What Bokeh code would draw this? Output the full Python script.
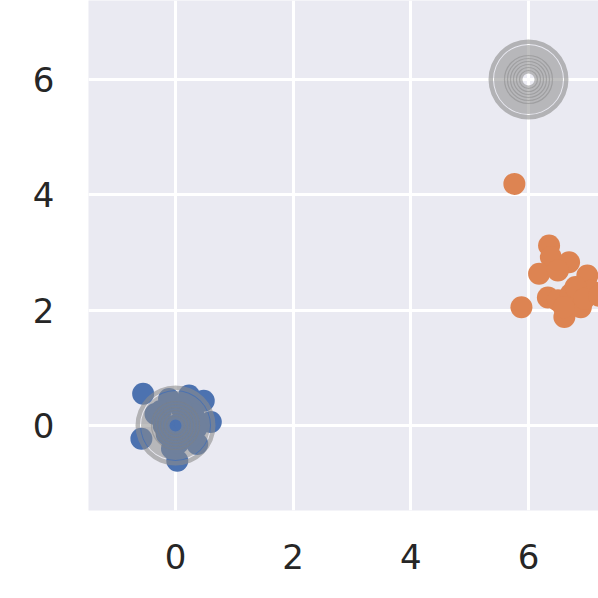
from bokeh.plotting import figure
from bokeh.models import Range1d, FixedTicker, ColumnDataSource
from bokeh.embed import file_html
from bokeh.resources import INLINE

# Data
blue_x = [-0.55, -0.58, 0.03, 0.60, 0.48, 0.23, -0.11, -0.34, 0.37, -0.06, 0.0, 0.15, -0.2, 0.3, 0.25, 0.1, -0.15, 0.05, 0.35, -0.25]
blue_y = [0.55, -0.23, -0.61, 0.06, 0.43, 0.52, 0.46, 0.20, -0.32, -0.40, 0.0, 0.05, 0.0, 0.2, -0.2, 0.3, -0.15, -0.3, -0.05, 0.25]
orange_x = [5.76, 5.88, 6.35, 6.38, 6.18, 6.69, 7.00, 6.33, 6.61, 6.89, 7.06, 6.50, 6.72, 6.50, 6.80, 6.95, 6.60, 7.20]
orange_y = [4.19, 2.05, 3.12, 2.92, 2.63, 2.83, 2.60, 2.22, 1.88, 2.05, 2.34, 2.17, 2.28, 2.69, 2.40, 2.20, 2.05, 2.25]
centroid_x = [0, 6]
centroid_y = [0, 6]
ticks = [0, 2, 4, 6]

p = figure(width=598, height=598, output_backend="svg", toolbar_location=None,
           x_range=Range1d(-1.479, 7.19), y_range=Range1d(-1.474, 7.37),
           min_border_left=88, min_border_right=0, min_border_top=0, min_border_bottom=88)
p.background_fill_color = "#EAEAF2"
p.border_fill_color = "white"
p.outline_line_color = None

for ax in (p.xaxis, p.yaxis):
    ax.ticker = FixedTicker(ticks=ticks)
    ax.axis_line_color = None
    ax.major_tick_line_color = None
    ax.minor_tick_line_color = None
    ax.major_label_text_font = "DejaVu Sans"
    ax.major_label_text_font_size = "34px"
    ax.major_label_text_color = "#262626"
p.xaxis.major_label_standoff = 27
p.yaxis.major_label_standoff = 28

p.grid.grid_line_color = "white"
p.grid.grid_line_width = 3

p.scatter(blue_x, blue_y, size=22, fill_color="#4C72B0", line_color=None)
p.scatter(orange_x, orange_y, size=22, fill_color="#DD8452", line_color=None)

csrc = ColumnDataSource(dict(x=centroid_x, y=centroid_y))
p.annulus("x", "y", inner_radius=35.5, outer_radius=40, inner_radius_units="screen",
          outer_radius_units="screen", source=csrc, fill_color="#8C8C8C", fill_alpha=0.6, line_color=None)
p.annulus("x", "y", inner_radius=6, outer_radius=34.5, inner_radius_units="screen",
          outer_radius_units="screen", source=csrc, fill_color="#8C8C8C", fill_alpha=0.55, line_color=None)
for r in [9, 12, 15, 18, 21, 24]:
    p.circle("x", "y", radius=r, radius_units="screen", source=csrc, fill_color=None,
             line_color="#808080", line_alpha=0.45, line_width=1.2)

open("out.html", "w").write(file_html(p, INLINE))
